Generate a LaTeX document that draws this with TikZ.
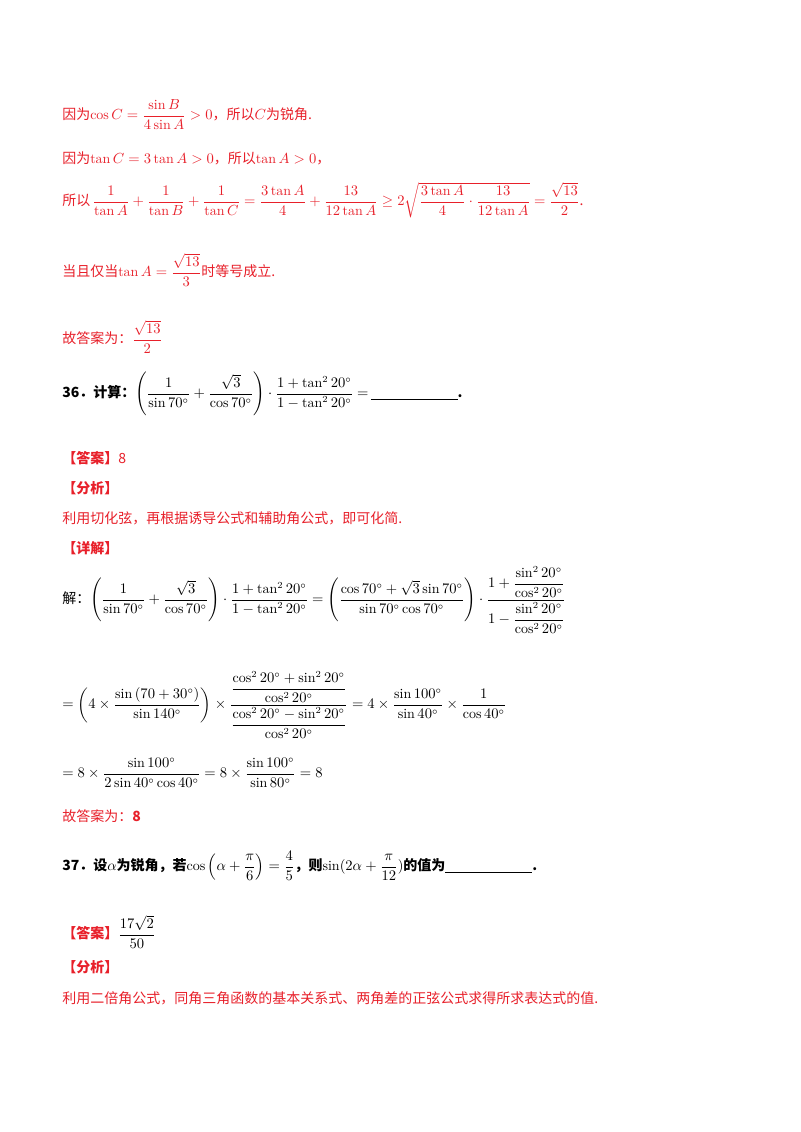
\documentclass[tikz,border=0pt]{standalone}
\usepackage{amsmath}
\usepackage{fontspec}
\newfontfamily\cjk{Noto Sans CJK SC}
\definecolor{rd}{HTML}{E8202A}
\begin{document}
\begin{tikzpicture}[x=0.75pt,y=-0.75pt,
 t/.style={anchor=west,inner sep=0pt,font=\cjk\fontsize{10.5}{12}\selectfont},
 r/.style={t,text=rd},
 b/.style={t,font=\cjk\bfseries\fontsize{10.5}{12}\selectfont}]
\useasboundingbox[fill=white] (0,0) rectangle (800,1132);
\node[r] (l1) at (62,115) {因为$\cos C=\dfrac{\sin B}{4\sin A}>0$，所以$C$为锐角.};
\node[r] (l2) at (62,158) {因为$\tan C=3\tan A>0$，所以$\tan A>0$，};
\node[r] (l3) at (62,200) {所以\,$\dfrac{1}{\tan A}+\dfrac{1}{\tan B}+\dfrac{1}{\tan C}=\dfrac{3\tan A}{4}+\dfrac{13}{12\tan A}\geq 2\sqrt{\dfrac{3\tan A}{4}\cdot\dfrac{13}{12\tan A}}=\dfrac{\sqrt{13}}{2}$.};
\node[r] (l4) at (62,270) {当且仅当$\tan A=\dfrac{\sqrt{13}}{3}$时等号成立.};
\node[r] (l5) at (62,337) {故答案为：$\dfrac{\sqrt{13}}{2}$};
\node[b] (q36) at (62,394) {36．计算：$\left(\dfrac{1}{\sin70^\circ}+\dfrac{\sqrt3}{\cos70^\circ}\right)\cdot\dfrac{1+\tan^2 20^\circ}{1-\tan^2 20^\circ}=$\,\underline{\hspace{6.2em}}.};
\node[r] (a36) at (62,458) {\bfseries【答案】\mdseries 8};
\node[r] (f36) at (62,488) {\bfseries【分析】};
\node[r] (f36t) at (62,518) {利用切化弦，再根据诱导公式和辅助角公式，即可化简.};
\node[r] (x36) at (62,548) {\bfseries【详解】};
\node[t] (s1) at (62,600) {解：$\left(\dfrac{1}{\sin70^\circ}+\dfrac{\sqrt3}{\cos70^\circ}\right)\cdot\dfrac{1+\tan^2 20^\circ}{1-\tan^2 20^\circ}=\left(\dfrac{\cos70^\circ+\sqrt3\sin70^\circ}{\sin70^\circ\cos70^\circ}\right)\cdot\dfrac{1+\dfrac{\sin^2 20^\circ}{\cos^2 20^\circ}}{1-\dfrac{\sin^2 20^\circ}{\cos^2 20^\circ}}$};
\node[t] (s2) at (62,705) {$=\left(4\times\dfrac{\sin\left(70+30^\circ\right)}{\sin140^\circ}\right)\times\dfrac{\dfrac{\cos^2 20^\circ+\sin^2 20^\circ}{\cos^2 20^\circ}}{\dfrac{\cos^2 20^\circ-\sin^2 20^\circ}{\cos^2 20^\circ}}=4\times\dfrac{\sin100^\circ}{\sin40^\circ}\times\dfrac{1}{\cos40^\circ}$};
\node[t] (s3) at (62,773) {$=8\times\dfrac{\sin100^\circ}{2\sin40^\circ\cos40^\circ}=8\times\dfrac{\sin100^\circ}{\sin80^\circ}=8$};
\node[r] (g36) at (62,816) {故答案为：\bfseries 8};
\node[b] (q37) at (62,866) {37．设$\alpha$为锐角，若$\cos\left(\alpha+\dfrac{\pi}{6}\right)=\dfrac45$，则$\sin(2\alpha+\dfrac{\pi}{12})$的值为\underline{\hspace{6.2em}}.};
\node[r] (a37) at (62,932) {\bfseries【答案】\mdseries\color{black}$\dfrac{17\sqrt2}{50}$};
\node[r] (f37) at (62,967) {\bfseries【分析】};
\node[r] (f37t) at (62,998) {利用二倍角公式，同角三角函数的基本关系式、两角差的正弦公式求得所求表达式的值.};
\end{tikzpicture}
\end{document}
